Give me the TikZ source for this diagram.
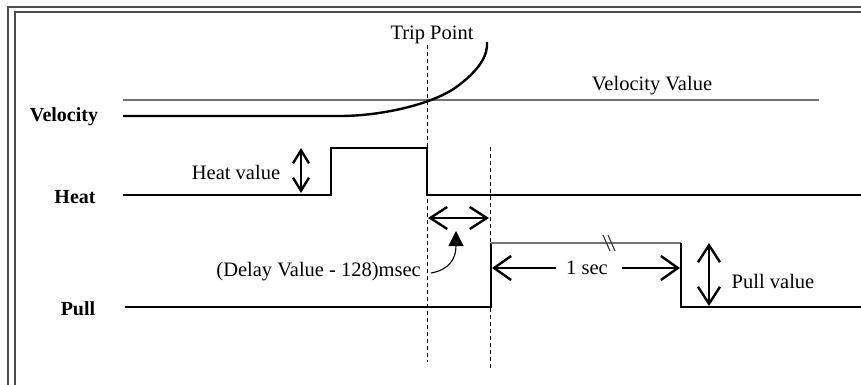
\documentclass[tikz,border=0pt]{standalone}
\usepackage{fontspec}
\setmainfont{Liberation Serif}
\usetikzlibrary{arrows.meta}
\begin{document}
\begin{tikzpicture}[x=1pt,y=-1pt,
  sig/.style={line width=2.6pt},
  thin/.style={line width=1.4pt,draw=black!55},
  guide/.style={line width=0.9pt,dash pattern=on 4pt off 3pt},
  lbl/.style={font=\fontsize{20}{22}\selectfont\bfseries,inner sep=0pt},
  txt/.style={font=\fontsize{20.5}{22}\selectfont,inner sep=0pt},
  dim/.style={line width=2.4pt,{Straight Barb[length=17pt,width=22pt]}-{Straight Barb[length=17pt,width=22pt]}},
  dimone/.style={line width=2.4pt,-{Straight Barb[length=17pt,width=24pt]}},
  frame/.style={line width=1.2pt,draw=black!70}]
\useasboundingbox (0,0) rectangle (861,385);
% frame
\draw[frame] (8,385) -- (8,7) -- (861,7);
\draw[frame] (15,385) -- (15,12) -- (861,12);
% labels
\node[lbl] (velL) at (64,117) {Velocity};
\node[lbl] (heatL) at (75,197) {Heat};
\node[lbl] (pullL) at (78,309) {Pull};
% coordinates
\coordinate (trT) at (427,45);
\coordinate (trB) at (427,362);
\coordinate (dlT) at (490,147);
\coordinate (dlB) at (490,368);
% guides
\draw[guide] (trT) -- (trB);
\draw[guide] (dlT) -- (dlB);
% velocity
\draw[thin] (123,100) -- (819,100);
\node[txt] (vv) at (652,86) {Velocity Value};
\node[txt] (tp) at (432,35) {Trip Point};
\draw[sig,line width=2.4pt] (123,116) -- (340,116) .. controls (380,116) and (430,105) .. (455,88) .. controls (480,70) and (488,55) .. (487,42);
% heat
\draw[sig] (123,195) -- (331,195) -- (331,148) -- (427,148) -- (427,195) -- (861,195);
\node[txt] (hv) at (236,172) {Heat value};
\coordinate (hvT) at (301,148);
\coordinate (hvB) at (301,193);
\draw[line width=2.4pt,{Straight Barb[length=13pt,width=16pt]}-{Straight Barb[length=13pt,width=16pt]}] (hvT) -- (hvB);
% delay
\draw[dim] (428,218) -- (489,218);
\node[txt,anchor=east] (dv) at (421,272) {(Delay Value - 128)msec};
\draw[line width=1.1pt,-{Triangle[length=15pt,width=15pt]}] (dv.east) ++(10,1) .. controls (448,270) and (456,260) .. (456,231);
% pull
\draw[sig] (125,307) -- (491,307) -- (491,243);
\draw[thin] (491,243) -- (681,243);
\draw[thin,line width=1.1pt,draw=black!80] (603,235) -- (610,251) (608,235) -- (615,251);
\draw[sig] (681,243) -- (681,307) -- (861,307);
\node[txt] (os) at (587,268) {1 sec};
\draw[dimone] (os.west) ++(-10,0) -- (492,268);
\draw[dimone] (os.east) ++(14,0) -- (680,268);
\draw[dim] (709,243) -- (709,306);
\node[txt] (pv) at (773,281) {Pull value};
\end{tikzpicture}
\end{document}
